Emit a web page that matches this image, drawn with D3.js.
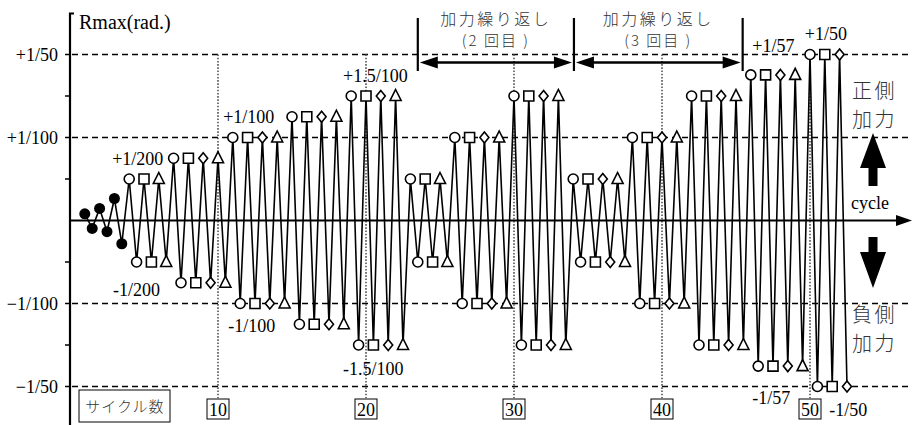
<!DOCTYPE html>
<html>
<head>
<meta charset="utf-8">
<script src="https://cdn.jsdelivr.net/npm/d3@7"></script>
<style>
  body { margin: 0; background: #fff; }
  svg text { font-family: "Liberation Serif", "Times New Roman", "DejaVu Serif", serif; }
  svg text.jp { font-family: "Noto Sans CJK JP", sans-serif; font-weight: 300; fill: #333; }
</style>
</head>
<body>
<svg id="chart" width="912" height="425"></svg>
<script>
// first three small cycles (filled dots), rad
const prelimUp = [0.0008, 0.00145, 0.00265];
const prelimDown = [-0.00095, -0.00135, -0.0028];

// amplitude of each loading step, rad
const stepAmp = [1/200, 0.0075, 1/100, 0.0125, 0.015, 1/200, 1/100, 0.015, 1/200, 1/100, 0.015, 1/57, 1/50];
// markers used in a step, one per cycle: o circle, s square, d diamond, t triangle
const stepMarks = ['ost', 'osdt', 'osdt', 'osdt', 'osdt', 'ost', 'osdt', 'osdt', 'osdt', 'osdt', 'osdt', 'osdt', 'osd'];

const yTicks = [0.02, 0.01, -0.01, -0.02];
const yTickLabels = ['+1/50', '+1/100', '\u22121/100', '\u22121/50'];
const yMinor = [0.015, 0.005, -0.005, -0.015];
const cycleTicks = [10, 20, 30, 40, 50];

const svg = d3.select('#chart');

const x = d3.scaleLinear().domain([0, 55]).range([70, 884]);
const y = d3.scaleLinear().domain([-0.02, 0.02]).range([386.5, 54.5]);

// build the peak sequence
let peaks = [];
let cyc = 1;
prelimUp.forEach((v, i) => {
    peaks.push({ c: cyc, v: v, m: 'b' });
    peaks.push({ c: cyc + 0.5, v: prelimDown[i], m: 'b' });
    cyc++;
});
stepAmp.forEach((a, i) => {
    for (const m of stepMarks[i]) {
        peaks.push({ c: cyc, v: a, m: m });
        peaks.push({ c: cyc + 0.5, v: -a, m: m });
        cyc++;
    }
});

// dashed reference lines
svg.selectAll('.ref')
    .data(yTicks)
    .enter()
    .append('line')
    .attr('x1', 72).attr('x2', 912)
    .attr('y1', d => y(d)).attr('y2', d => y(d))
    .attr('stroke', '#000')
    .attr('stroke-width', 1.3)
    .attr('stroke-dasharray', '6,4');

// dotted cycle lines + boxed numbers
svg.selectAll('.cyc')
    .data(cycleTicks)
    .enter()
    .append('line')
    .attr('x1', d => x(d)).attr('x2', d => x(d))
    .attr('y1', y(0.02)).attr('y2', 398)
    .attr('stroke', '#666')
    .attr('stroke-width', 1.8)
    .attr('stroke-dasharray', '1.6,1.6');

const cg = svg.selectAll('.cycLab')
    .data(cycleTicks)
    .enter()
    .append('g')
    .attr('transform', d => `translate(${x(d)},409)`);
cg.append('rect')
    .attr('x', -11).attr('y', -10).attr('width', 22).attr('height', 20)
    .attr('fill', '#fff').attr('stroke', '#000').attr('stroke-width', 1);
cg.append('text')
    .attr('text-anchor', 'middle')
    .attr('y', 7)
    .attr('font-size', 18)
    .text(d => d);

// y axis
svg.append('path')
    .attr('d', 'M74,13.5 H70 V425')
    .attr('fill', 'none')
    .attr('stroke', '#000')
    .attr('stroke-width', 2.2);

svg.selectAll('.minor')
    .data(yMinor.concat(yTicks))
    .enter()
    .append('line')
    .attr('x1', 65).attr('x2', 71)
    .attr('y1', d => y(d)).attr('y2', d => y(d))
    .attr('stroke', '#000')
    .attr('stroke-width', 1.5);

svg.selectAll('.ylab')
    .data(yTicks)
    .enter()
    .append('text')
    .attr('x', 58)
    .attr('y', d => y(d) + 6)
    .attr('text-anchor', 'end')
    .attr('font-size', 18)
    .text((d, i) => yTickLabels[i]);

svg.append('text')
    .attr('x', 79).attr('y', 29)
    .attr('font-size', 20)
    .text('Rmax(rad.)');

// x axis with arrow
svg.append('line')
    .attr('x1', 70).attr('x2', 900)
    .attr('y1', y(0)).attr('y2', y(0))
    .attr('stroke', '#000')
    .attr('stroke-width', 2.2);
svg.append('path')
    .attr('d', `M912,${y(0)} L896,${y(0) - 5.5} L896,${y(0) + 5.5} Z`)
    .attr('fill', '#000');
svg.append('text')
    .attr('x', 851).attr('y', 209)
    .attr('font-size', 18)
    .text('cycle');

// zigzag
const line = d3.line()
    .x(d => x(d.c))
    .y(d => y(d.v));

svg.append('path')
    .datum(peaks)
    .attr('d', line)
    .attr('fill', 'none')
    .attr('stroke', '#000')
    .attr('stroke-width', 1.6)
    .attr('stroke-linejoin', 'miter');

function markPath(m) {
    if (m === 's') return 'M-5,-5H5V5H-5Z';
    if (m === 'd') return 'M0,-5.5L4.5,0L0,5.5L-4.5,0Z';
    if (m === 't') return 'M0,-6.5L5.5,4.5H-5.5Z';
    return null;
}

const mk = svg.selectAll('.mk')
    .data(peaks)
    .enter()
    .append('g')
    .attr('transform', d => `translate(${x(d.c)},${y(d.v)})`);

mk.each(function(d) {
    const g = d3.select(this);
    if (d.m === 'b') {
        g.append('circle').attr('r', 5.5).attr('fill', '#000');
    } else if (d.m === 'o') {
        g.append('circle').attr('r', 5).attr('fill', '#fff')
            .attr('stroke', '#000').attr('stroke-width', 1.6);
    } else {
        g.append('path').attr('d', markPath(d.m)).attr('fill', '#fff')
            .attr('stroke', '#000').attr('stroke-width', 1.6);
    }
});

// peak labels
function lbl(t, px, py, size) {
    svg.append('text')
        .attr('x', px).attr('y', py)
        .attr('font-size', size || 18)
        .text(t);
}
lbl('+1/200', x(2.85), y(0.0067));
lbl('-1/200', x(2.9), y(-0.0091));
lbl('+1/100', x(10.35), y(0.0118));
lbl('-1/100', x(10.7), y(-0.0134));
lbl('+1.5/100', x(18.45), y(0.0167));
lbl('-1.5/100', x(18.45), y(-0.0186));
lbl('+1/57', x(46.1), y(0.0203));
lbl('+1/50', x(49.65), y(0.0217));
lbl('-1/57', x(46.1), y(-0.0221));
lbl('-1/50', x(51.3), y(-0.0235));

// cycle count box
svg.append('rect')
    .attr('x', 79).attr('y', 390).attr('width', 91).attr('height', 32)
    .attr('fill', '#fff').attr('stroke', '#000').attr('stroke-width', 1);
svg.append('text')
    .attr('class', 'jp')
    .attr('x', 125).attr('y', 412)
    .attr('text-anchor', 'middle')
    .attr('font-size', 15)
    .attr('letter-spacing', 1)
    .text('サイクル数');

// repeated loading brackets
const bars = [23.5, 34.05, 45.45];
svg.selectAll('.bar')
    .data(bars)
    .enter()
    .append('line')
    .attr('x1', d => x(d)).attr('x2', d => x(d))
    .attr('y1', 18).attr('y2', 71)
    .attr('stroke', '#000')
    .attr('stroke-width', 2.2);

function dblArrow(x1, x2, yy) {
    svg.append('line')
        .attr('x1', x1 + 12).attr('x2', x2 - 12)
        .attr('y1', yy).attr('y2', yy)
        .attr('stroke', '#000').attr('stroke-width', 2.6);
    svg.append('path')
        .attr('d', `M${x1},${yy} L${x1 + 18},${yy - 6} L${x1 + 18},${yy + 6} Z M${x2},${yy} L${x2 - 18},${yy - 6} L${x2 - 18},${yy + 6} Z`)
        .attr('fill', '#000');
}
dblArrow(x(bars[0]) + 2, x(bars[1]) - 2, 62.5);
dblArrow(x(bars[1]) + 2, x(bars[2]) - 2, 62.5);

const reps = ['(2 回目 )', '(3 回目 )'];
reps.forEach((r, i) => {
    const cx = (x(bars[i]) + x(bars[i + 1])) / 2;
    svg.append('text').attr('class', 'jp')
        .attr('x', cx).attr('y', 25)
        .attr('text-anchor', 'middle')
        .attr('font-size', 16)
        .attr('letter-spacing', 2.5)
        .text('加力繰り返し');
    svg.append('text').attr('class', 'jp')
        .attr('x', cx).attr('y', 46)
        .attr('text-anchor', 'middle')
        .attr('font-size', 15)
        .attr('letter-spacing', 2)
        .text(r);
});

// positive / negative side labels and arrows
const side = [['正側', 98], ['加力', 127], ['負側', 322], ['加力', 351]];
side.forEach(s => {
    svg.append('text').attr('class', 'jp')
        .attr('x', 852).attr('y', s[1])
        .attr('font-size', 20)
        .attr('letter-spacing', 2.5)
        .text(s[0]);
});
svg.append('path')
    .attr('d', 'M873,133 L886,168 L877.5,168 L877.5,186 L868.5,186 L868.5,168 L860,168 Z')
    .attr('fill', '#000');
svg.append('path')
    .attr('d', 'M873,288 L886,252 L877.5,252 L877.5,237 L868.5,237 L868.5,252 L860,252 Z')
    .attr('fill', '#000');
</script>
</body>
</html>
